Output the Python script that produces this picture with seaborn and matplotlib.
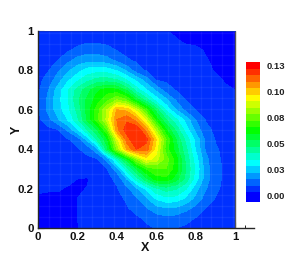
import numpy as np
import matplotlib
matplotlib.use("Agg")
import matplotlib.pyplot as plt
from matplotlib.ticker import MultipleLocator
import seaborn as sns

x_values = [0, .05, .1, .15, .2, .25, .3, .35, .4, .45, .5, .55, .6, .65, .7, .75, .8, .85, .9, .95, 1]
y_values = [1, .95, .9, .85, .8, .75, .7, .65, .6, .55, .5, .45, .4, .35, .3, .25, .2, .15, .1, .05, 0]
# field values in units of one contour step, rows from y=1 down to y=0
field_steps = [
    [1, 1, 1, 1, 1, 1, 1, 1, 1, 1, 1, 1, 1, .55, .3, .3, .3, .3, .3, .3, .3],
    [1, 1, 1.05, 1.1, 1.2, 1.3, 1.3, 1.25, 1.2, 1.15, 1.1, 1.05, 1, .85, .6, .35, .3, .3, .3, .3, .3],
    [1, 1.05, 1.2, 1.4, 1.75, 2.1, 2.1, 1.8, 1.5, 1.3, 1.25, 1.2, 1.1, 1, .9, .8, .7, .45, .3, .3, .3],
    [1.1, 1.2, 1.5, 2.2, 2.9, 3.2, 3.2, 2.9, 2.3, 1.6, 1.4, 1.3, 1.2, 1.1, 1, .9, .7, .55, .4, .3, .3],
    [1.1, 1.4, 2.3, 3.3, 4.1, 4.9, 5.1, 5, 4.4, 3.3, 1.9, 1.4, 1.3, 1.2, 1.1, 1, .8, .65, .45, .3, .3],
    [1.2, 1.9, 3, 4.3, 5.3, 6.2, 6.9, 7, 6.6, 5.5, 4.3, 3, 1.5, 1.35, 1.25, 1.1, .95, .8, .65, .45, .35],
    [1.3, 2.4, 3.9, 5.3, 6.9, 8.1, 9.3, 10, 9.8, 8.3, 6, 4.6, 3.3, 2, 1.45, 1.3, 1.1, .9, .75, .6, .5],
    [1.4, 2.7, 4.1, 5.4, 7.2, 8.7, 10, 11.2, 12.5, 11.5, 9, 7, 5, 3.7, 2.4, 1.5, 1.3, 1.15, 1, .85, .7],
    [1.4, 2.7, 4, 5.1, 6.8, 8.8, 11, 13.5, 16.5, 16.2, 14, 10.8, 8, 5.3, 3.5, 2.2, 1.5, 1.3, 1.15, 1, .85],
    [1.25, 2.1, 3.3, 4.5, 6.2, 8.7, 11, 13.8, 17.5, 18.3, 17, 14, 10, 7.5, 5.7, 4.1, 2.5, 1.45, 1.25, 1.1, .9],
    [1.05, 1.25, 1.5, 2.7, 4.4, 6.5, 8.5, 11.5, 17.2, 19, 19.4, 17, 13, 9.5, 7.2, 5, 3.2, 1.7, 1.35, 1.15, .95],
    [1, 1.1, 1.2, 1.4, 1.9, 3.8, 6.7, 9.2, 14, 18, 19.4, 18.8, 15.5, 11.5, 8.5, 6.2, 4.2, 2.3, 1.45, 1.25, 1],
    [.95, 1, 1.1, 1.2, 1.4, 1.8, 3.2, 8, 12.5, 16.5, 18.5, 18, 15, 11, 9, 6.8, 4.4, 2.4, 1.6, 1.3, 1.1],
    [.9, .95, 1, 1.1, 1.2, 1.3, 1.45, 2.8, 6, 9, 12.5, 15, 14, 12, 10, 7.2, 5, 2.8, 1.7, 1.3, 1.1],
    [.85, .9, .95, 1, 1.05, 1.15, 1.3, 1.45, 3, 6, 8.5, 10.5, 11.5, 11.5, 10, 7.5, 5.3, 3, 1.8, 1.35, 1.1],
    [.75, .75, .75, .65, .5, .42, 1, 1.25, 1.7, 3.5, 6, 8.3, 10, 10.2, 9, 7.2, 5, 3, 1.8, 1.3, 1.05],
    [.6, .55, .55, .45, .42, .52, .95, 1.2, 1.4, 2.2, 3.3, 4.7, 6.3, 7, 6.6, 5.6, 3.9, 2.6, 1.7, 1.25, 1],
    [.4, .4, .4, .4, .5, .75, .95, 1.1, 1.3, 1.6, 2.4, 3.3, 4.6, 5.2, 5.1, 4.3, 3.2, 2.1, 1.45, 1.2, .95],
    [.3, .3, .3, .35, .5, .8, .95, 1.05, 1.2, 1.4, 1.8, 2.4, 3.1, 3.4, 3.3, 2.8, 2.2, 1.5, 1.25, 1.1, .9],
    [.3, .3, .3, .35, .5, .85, .95, 1, 1.1, 1.2, 1.35, 1.65, 2, 2.2, 2.1, 1.8, 1.45, 1.25, 1.1, 1, .9],
    [.3, .3, .3, .35, .45, .8, .9, .95, 1, 1.1, 1.2, 1.35, 1.55, 1.6, 1.5, 1.35, 1.25, 1.15, 1.05, .95, .85],
]
step_size = 0.00625
band_count = 21
colorbar_ticks = [0, .025, .05, .075, .1, .125]
colorbar_labels = ["0.00", "0.03", "0.05", "0.08", "0.10", "0.13"]
axis_ticks = [0, .2, .4, .6, .8, 1]
axis_labels = ["0", "0.2", "0.4", "0.6", "0.8", "1"]

sns.set_theme(style="ticks")
plt.rcParams["font.family"] = ["Liberation Sans", "DejaVu Sans"]
plt.rcParams["font.weight"] = "bold"

W, H = 289, 257
fig = plt.figure(figsize=(W / 100, H / 100), dpi=100, facecolor="white")
ax = fig.add_axes([38 / W, (H - 228) / H, (254 - 38) / W, 197 / H])

palette = sns.blend_palette(["#0000ff", "#00ffff", "#00ff00", "#ffff00", "#ff0000"], band_count)
levels = [step_size * (i - 0.5) for i in range(band_count + 1)]
Z = np.array(field_steps) * step_size
X, Y = np.meshgrid(x_values, y_values)
for _ in range(2):
    ax.contourf(X, Y, Z, levels=levels, colors=palette, extend="max")

for p in np.arange(0.055, 1, 0.055):
    ax.plot([p, p], [0, 1], color="white", alpha=0.06, lw=1)
    ax.plot([0, 1], [p, p], color="white", alpha=0.06, lw=1)

ax.set_xlim(0, (254 - 38) / 197)
ax.set_ylim(0, 1)
ax.set_xticks(axis_ticks, axis_labels)
ax.set_yticks(axis_ticks, axis_labels)
ax.xaxis.set_minor_locator(MultipleLocator(0.05))
ax.yaxis.set_minor_locator(MultipleLocator(0.05))
ax.tick_params(which="major", direction="in", length=4, width=0.8, color="black",
               labelsize=8.2, labelcolor="#111111", pad=3)
ax.tick_params(which="minor", direction="in", length=2, width=0.6, color="black")
sns.despine(ax=ax, top=True, right=True)
ax.spines["left"].set_linewidth(1.0)
ax.spines["bottom"].set_linewidth(1.0)
ax.axvline(1, color="#555555", lw=1.0)
ax.axhline(1, xmax=197 / 216, color="#1030c0", lw=0.6)
ax.patch.set_alpha(0)
ax.set_xlabel("X", fontsize=9, fontweight="bold", color="#111111", labelpad=0)
ax.set_ylabel("Y", fontsize=9, fontweight="bold", color="#111111", labelpad=1)
ax.xaxis.set_label_coords((145 - 38) / 216, -(242 - 228) / 197)
ax.yaxis.set_label_coords(-(38 - 23) / 216, 0.5)

cax = fig.add_axes([246 / W, (H - 202) / H, 14 / W, 140 / H])
y_low = step_size * (-1.0)
y_high = step_size * 20.5
for i, col in enumerate(palette):
    cax.axhspan(levels[i] if i else y_low, min(levels[i + 1], y_high), color=col, lw=0)
cax.set_ylim(y_low, y_high)
cax.set_xticks([])
cax.yaxis.tick_right()
cax.set_yticks(colorbar_ticks, colorbar_labels)
cax.tick_params(length=0, labelsize=6.8, labelcolor="#222222", pad=5)
for s in cax.spines.values():
    s.set_visible(False)

fig.savefig("out.png", dpi=100, facecolor="white")
